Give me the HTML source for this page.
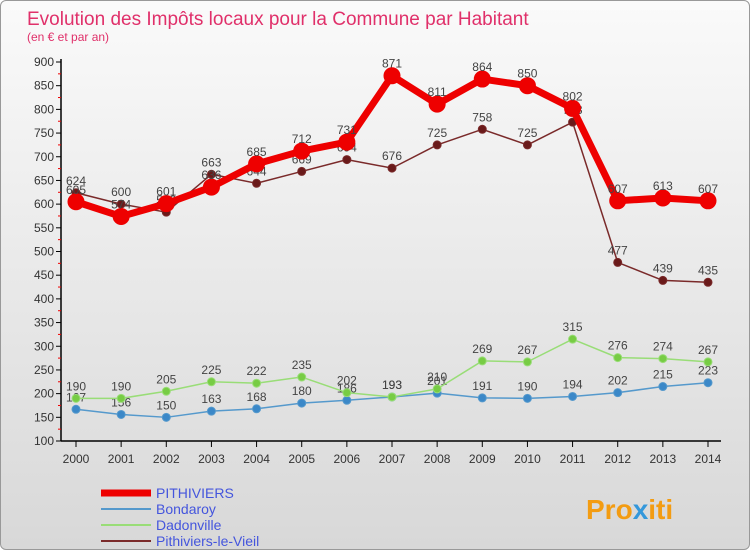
<!DOCTYPE html>
<html><head><meta charset="utf-8"><style>
body{margin:0;width:750px;height:550px;overflow:hidden;font-family:"Liberation Sans",sans-serif}
#wrap{position:absolute;left:0;top:0;width:748px;height:548px;border:1px solid #999;border-radius:6px;background:linear-gradient(#fafafa,#d8d8d8)}
</style></head><body>
<div id="wrap">
<svg id="c" width="750" height="550" style="position:absolute;left:0;top:0">
<text x="26" y="24" font-size="19" fill="#e0306a">Evolution des Impôts locaux pour la Commune par Habitant</text>
<text x="26" y="40" font-size="12" fill="#e0306a">(en € et par an)</text>
<text x="585" y="518" font-size="28" font-weight="bold" fill="#f39c12">Pro<tspan fill="#3498db">x</tspan>iti</text>
</svg></div>
<script>
const years=[2000,2001,2002,2003,2004,2005,2006,2007,2008,2009,2010,2011,2012,2013,2014];
const yTicks=[100,150,200,250,300,350,400,450,500,550,600,650,700,750,800,850,900];
const pithiviers=[605,574,601,636,685,712,731,871,811,864,850,802,607,613,607];
const bondaroy=[167,156,150,163,168,180,186,193,201,191,190,194,202,215,223];
const dadonville=[190,190,205,225,222,235,202,193,210,269,267,315,276,274,267];
const pithiviersLeVieil=[624,600,583,663,644,669,694,676,725,758,725,773,477,439,435];
const NS="http://www.w3.org/2000/svg",svg=document.getElementById('c');
const X=i=>75+i*(707-75)/(years.length-1);
const Y=v=>440-(v-100)*(440-61)/800;
function mk(t,a,p){const e=document.createElementNS(NS,t);for(const k in a)e.setAttribute(k,a[k]);(p||svg).appendChild(e);return e;}
// axes
let ax=mk('g',{});


mk('line',{x1:60,y1:58,x2:60,y2:440,stroke:'#000','stroke-width':1.5},ax);
mk('line',{x1:60,y1:440,x2:720,y2:440,stroke:'#000','stroke-width':1.5},ax);
yTicks.forEach((v,i)=>{mk('line',{x1:55,y1:Y(v),x2:60,y2:Y(v),stroke:'#000'},ax);
 if(i<yTicks.length-1)mk('line',{x1:57,y1:Y(v+25),x2:60,y2:Y(v+25),stroke:'#e00'},ax);
 const t=mk('text',{x:53,y:Y(v)+4,'text-anchor':'end','font-size':12,fill:'#333'},ax);t.textContent=v;
 
 });
years.forEach((y,i)=>{mk('line',{x1:X(i),y1:440,x2:X(i),y2:446,stroke:'#000'},ax);
 const t=mk('text',{x:X(i),y:462,'text-anchor':'middle','font-size':12,fill:'#333'},ax);t.textContent=y;
 
 });
function series(name,data,color,w,r,dot){
 const g=mk('g',{});
 
 
 mk('polyline',{points:data.map((v,i)=>X(i)+','+Y(v)).join(' '),fill:'none',stroke:color,'stroke-width':w,'stroke-linejoin':'round'},g);
 data.forEach((v,i)=>{const c=mk('circle',{cx:X(i),cy:Y(v),r:r,fill:dot,stroke:color,'stroke-width':1},g);
  
  
  const t=mk('text',{x:X(i),y:Y(v)-8,'text-anchor':'middle','font-size':12,fill:'#444'},g);t.textContent=v;
  
  });
}
series('bondaroy',bondaroy,'#5599cc',1.5,4,'#3b88c8');
series('dadonville',dadonville,'#99dd77',1.5,4,'#77cc44');
series('pithiviers-le-vieil',pithiviersLeVieil,'#7a2a2a',1.5,4,'#6a1a1a');
series('pithiviers',pithiviers,'#ee0000',7,8,'#ee0000');
const leg=[['PITHIVIERS','#ee0000',7],['Bondaroy','#5599cc',2],['Dadonville','#99dd77',2],['Pithiviers-le-Vieil','#7a2a2a',2]];
leg.forEach((l,i)=>{const g=mk('g',{});
 
 
 const y=492+i*16;
 mk('line',{x1:100,y1:y,x2:150,y2:y,stroke:l[1],'stroke-width':l[2]},g);
 const t=mk('text',{x:155,y:y+5,'font-size':14,fill:'#4455dd'},g);t.textContent=l[0];});
</script>
</body></html>
